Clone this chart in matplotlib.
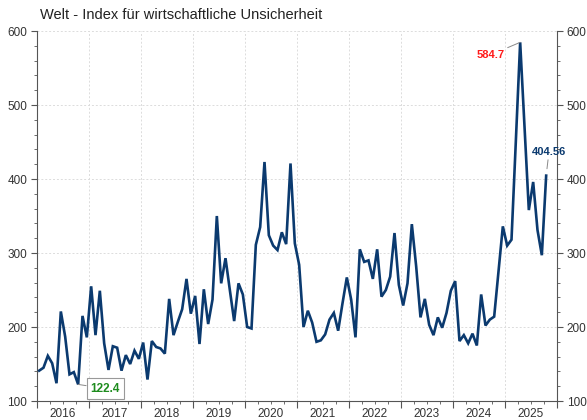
import numpy as np
import matplotlib
matplotlib.use("Agg")
import matplotlib.pyplot as plt
from matplotlib.ticker import MultipleLocator, FixedLocator
import matplotlib.transforms as mtransforms

plt.rcParams['font.family'] = ['Liberation Sans', 'DejaVu Sans']

# ---- data (monthly, Jan 2016 .. Oct 2025) ----
start_year = 2016
values = [141, 145, 161, 151, 124, 221, 187, 136, 139, 122.4, 215, 186,
          255, 189, 249, 178, 142, 174, 172, 141, 162, 150, 168, 157,
          179, 129, 181, 173, 171, 164, 238, 189, 207, 224, 265, 218,
          242, 177, 251, 204, 237, 350, 259, 293, 250, 208, 259, 244,
          200, 198, 311, 335, 423, 324, 310, 304, 328, 312, 421, 313,
          284, 200, 222, 206, 180, 182, 190, 210, 219, 195, 232, 267,
          237, 186, 305, 288, 290, 265, 305, 241, 250, 268, 327, 257,
          229, 259, 339, 282, 213, 238, 203, 189, 213, 199, 219, 249,
          262, 181, 189, 178, 191, 175, 244, 202, 210, 214, 275, 336,
          310, 318, 451, 584.7, 471, 358, 396, 331, 297, 404.56]
year_labels = [str(y) for y in range(2016, 2026)]
title = "Welt - Index für wirtschaftliche Unsicherheit"

x = start_year + (np.arange(len(values)) + 0.5) / 12.0
vals = np.array(values)

fig = plt.figure(figsize=(5.87, 4.20), dpi=100)
ax = fig.add_axes([37/587, 1-401/420, (557-37)/587, (401-31)/420])

line_col = '#0b3a6f'
ax.plot(x, vals, color=line_col, lw=1.9, solid_joinstyle='miter', zorder=3)

ax.set_xlim(2016, 2026)
ax.set_ylim(100, 600)

# grid
ax.set_xticks(np.arange(2016, 2027))
ax.set_xticklabels([''] * 11)
ax.xaxis.set_minor_locator(FixedLocator([y + q / 4 for y in range(2016, 2026) for q in (1, 2, 3)]))
ax.yaxis.set_major_locator(MultipleLocator(100))
ax.yaxis.set_minor_locator(MultipleLocator(20))
ax.grid(True, which='major', color='#dcdcdc', lw=0.7, ls=(0, (2, 2)))
ax.set_axisbelow(True)

# year labels centered in each year
trans = mtransforms.blended_transform_factory(ax.transData, ax.transAxes)
for i, lab in enumerate(year_labels):
    ax.text(2016 + i + 0.5, -0.018, lab, transform=trans, ha='center', va='top',
            fontsize=8.5, color='#333333')

spine_col = '#555555'
for s in ['left', 'right', 'bottom']:
    ax.spines[s].set_color(spine_col)
    ax.spines[s].set_linewidth(0.8)
ax.spines['top'].set_visible(False)

ax.tick_params(axis='y', which='both', left=True, right=True, labelleft=True, labelright=True,
               direction='out', color=spine_col, labelsize=8.5, labelcolor='#333333')
ax.tick_params(axis='y', which='major', length=4, pad=3)
ax.tick_params(axis='y', which='minor', length=2)
ax.tick_params(axis='x', which='major', direction='out', length=5, color=spine_col)
ax.tick_params(axis='x', which='minor', direction='out', length=2.5, color=spine_col)

fig.text(40/587, 1-15/420, title, ha='left', va='center', fontsize=10.5, color='#222222')

# annotations
imax = int(np.argmax(vals))
imin = int(np.argmin(vals))
ilast = len(vals) - 1
ax.annotate(f"{vals[imax]:.1f}", xy=(x[imax], vals[imax]), xytext=(-11, -9),
            textcoords='offset points', ha='right', va='center', fontsize=8,
            fontweight='bold', color='#ff1a1a',
            arrowprops=dict(arrowstyle='-', color='#888888', lw=0.7, shrinkA=0, shrinkB=0))
ax.annotate("404.56", xy=(x[ilast], vals[ilast]), xytext=(2, 17),
            textcoords='offset points', ha='center', va='center', fontsize=8,
            fontweight='bold', color=line_col,
            arrowprops=dict(arrowstyle='-', color='#888888', lw=0.7, shrinkA=0, shrinkB=5))
ax.annotate(f"{vals[imin]:.1f}", xy=(x[imin], vals[imin]), xytext=(9, -3),
            textcoords='offset points', ha='left', va='center', fontsize=8.5,
            fontweight='bold', color='#1e8c1e',
            bbox=dict(boxstyle='square,pad=0.35', fc='white', ec='#999999', lw=0.8),
            arrowprops=dict(arrowstyle='-', color='#888888', lw=0.7, shrinkA=0, shrinkB=0))

fig.savefig('out.png', dpi=100)
